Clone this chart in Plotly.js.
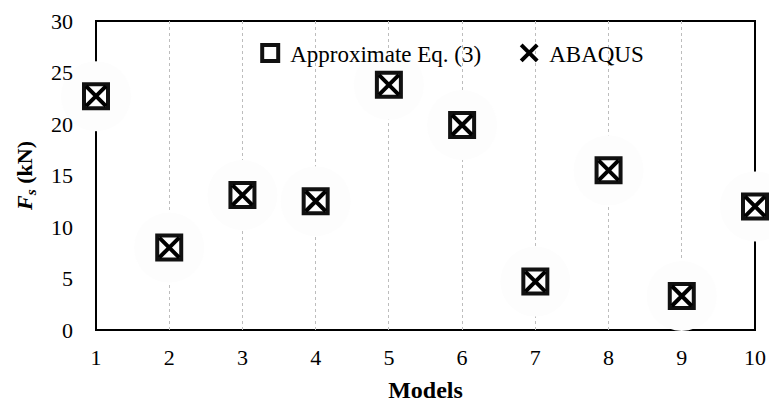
<!DOCTYPE html>
<html>
<head>
<meta charset="utf-8">
<script src="https://cdn.plot.ly/plotly-3.0.1.min.js"></script>
<style>html,body{margin:0;padding:0;background:#fff;}#chart{width:769px;height:405px;}</style>
</head>
<body>
<div id="chart"></div>
<script>
// Shear force per model: approximate equation vs. finite element results
const models = [1, 2, 3, 4, 5, 6, 7, 8, 9, 10];
const approxEq3 = [22.7, 8.0, 13.1, 12.5, 23.8, 19.9, 4.7, 15.5, 3.3, 12.0];
const abaqus = [22.7, 8.0, 13.1, 12.5, 23.8, 19.9, 4.7, 15.5, 3.3, 12.0];
const xTicks = [1, 2, 3, 4, 5, 6, 7, 8, 9, 10];
const yTicks = [0, 5, 10, 15, 20, 25, 30];

const serif = '"Liberation Serif", "Times New Roman", serif';

const traces = [
  {
    // soft white glow behind each marker
    x: models, y: approxEq3, type: 'scatter', mode: 'markers',
    showlegend: false, hoverinfo: 'skip', cliponaxis: false,
    marker: {symbol: 'circle', size: 70, color: '#fdfdfd', line: {width: 0}}
  },
  {
    x: models, y: approxEq3, type: 'scatter', mode: 'markers',
    name: 'Approximate Eq. (3)', cliponaxis: false, legend: 'legend',
    marker: {symbol: 'square-open', size: 24, color: '#111', line: {width: 4, color: '#111'}}
  },
  {
    x: models, y: abaqus, type: 'scatter', mode: 'markers',
    name: 'ABAQUS', cliponaxis: false, legend: 'legend2',
    marker: {symbol: 'x-thin', size: 20, color: '#000', line: {width: 4, color: '#000'}}
  }
];

const legendBase = {
  orientation: 'h', y: 0.966, xanchor: 'left', yanchor: 'top',
  font: {family: serif, size: 23, color: '#000'},
  bgcolor: 'rgba(0,0,0,0)', itemwidth: 30
};

const layout = {
  width: 769, height: 405,
  margin: {l: 96, r: 14, t: 21, b: 75},
  paper_bgcolor: '#fff', plot_bgcolor: '#fff',
  font: {family: serif, size: 22, color: '#000'},
  showlegend: true,
  legend: Object.assign({}, legendBase, {x: 0.234}),
  legend2: Object.assign({}, legendBase, {x: 0.627}),
  // plot frame sits above the grid but below the markers and their glow
  shapes: [{
    type: 'rect', xref: 'paper', yref: 'paper', x0: 0, x1: 1, y0: 0, y1: 1,
    layer: 'between', line: {color: '#000', width: 2}, fillcolor: 'rgba(0,0,0,0)'
  }],
  xaxis: {
    range: [1, 10], tickvals: xTicks, ticktext: xTicks.map(String),
    showgrid: true, gridcolor: '#bdbdbd', griddash: '3px,3px', gridwidth: 1,
    showline: false, ticks: '', zeroline: false, ticklabelstandoff: 12,
    tickfont: {family: serif, size: 22},
    title: {text: '<b>Models</b>', font: {family: serif, size: 24}, standoff: 12}
  },
  yaxis: {
    range: [0, 30], tickvals: yTicks, ticktext: yTicks.map(String),
    showgrid: false, showline: false, ticks: '', zeroline: false, ticklabelstandoff: 22,
    tickfont: {family: serif, size: 22},
    title: {text: '<b><i>F<sub>s</sub></i> (kN)</b>', font: {family: serif, size: 22}, standoff: 12}
  }
};

Plotly.newPlot('chart', traces, layout, {displayModeBar: false, staticPlot: true});
</script>
</body>
</html>
